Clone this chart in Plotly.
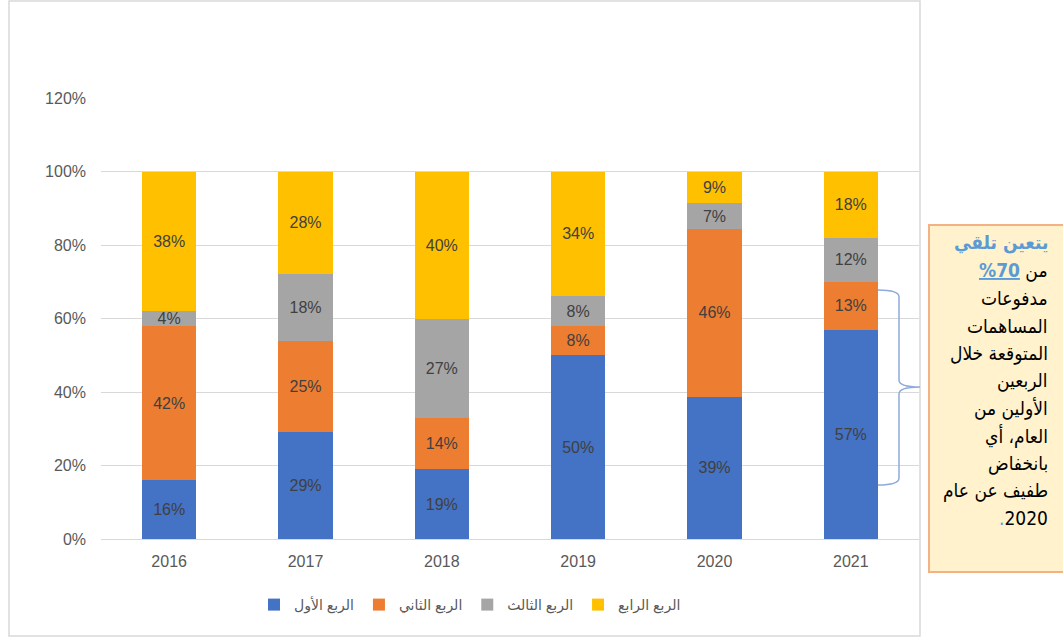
import plotly.graph_objects as go

years = ["2016", "2017", "2018", "2019", "2020", "2021"]
q1 = [0.16, 0.29, 0.19, 0.50, 0.387, 0.57]
q2 = [0.42, 0.25, 0.14, 0.08, 0.456, 0.13]
q3 = [0.04, 0.18, 0.27, 0.08, 0.070, 0.12]
q4 = [0.38, 0.28, 0.40, 0.34, 0.087, 0.18]
series_names = ["الربع الأول", "الربع الثاني", "الربع الثالث", "الربع الرابع"]
series_values = [q1, q2, q3, q4]
colors = ["#4472C4", "#ED7D31", "#A5A5A5", "#FFC000"]

note_lines = [
    "<span style='color:#5B9BD5'><b>يتعين تلقي</b></span>",
    "<span style='color:#5B9BD5'><b><u>%70</u></b></span> من",
    "مدفوعات",
    "المساهمات",
    "المتوقعة خلال",
    "الربعين",
    "الأولين من",
    "العام، أي",
    "بانخفاض",
    "طفيف عن عام",
    "<span style='color:#5B9BD5'>.</span>2020",
]

W, H = 1063, 638
L, R, T, B = 101, 919, 98, 539  # plot area in px


def px_x(p):
    return (p - L) / (R - L)


def px_y(p):
    return (B - p) / (B - T)


fig = go.Figure()
for name, vals, c in zip(series_names, series_values, colors):
    fig.add_trace(go.Bar(
        x=years, y=vals, name=name, marker=dict(color=c, line=dict(width=0)),
        texttemplate="%{y:.0%}", textposition="inside", insidetextanchor="middle",
        textangle=0, constraintext="none",
        textfont=dict(size=16, color="#404040", family="Liberation Sans, DejaVu Sans"),
        hoverinfo="skip",
    ))

shapes = [
    # chart border
    dict(type="rect", xref="paper", yref="paper", x0=px_x(9), x1=px_x(920),
         y0=px_y(636), y1=px_y(1), line=dict(color="#D9D9D9", width=1.5),
         fillcolor="rgba(0,0,0,0)", layer="below"),
    # note box
    dict(type="rect", xref="paper", yref="paper", x0=px_x(929), x1=px_x(1070),
         y0=px_y(572), y1=px_y(225), line=dict(color="#F4B183", width=2),
         fillcolor="#FFF2CC", layer="above"),
]

# brace (pixel geometry converted to paper coords)
xa, xb, xc = px_x(878), px_x(899), px_x(920)
ys = [px_y(v) for v in (290, 297, 380, 387, 394, 478, 485)]
path = (f"M {xa},{ys[0]} Q {xb},{ys[0]} {xb},{ys[1]} L {xb},{ys[2]} "
        f"Q {xb},{ys[3]} {xc},{ys[3]} Q {xb},{ys[3]} {xb},{ys[4]} "
        f"L {xb},{ys[5]} Q {xb},{ys[6]} {xa},{ys[6]}")
shapes.append(dict(type="path", xref="paper", yref="paper", path=path,
                   line=dict(color="#8FAADC", width=1.5)))

annotations = []
for i, line in enumerate(note_lines):
    annotations.append(dict(
        xref="paper", yref="paper", x=px_x(1050), y=px_y(243 + i * 27.5),
        xanchor="right", yanchor="middle", text=line, showarrow=False,
        font=dict(size=19, color="#000000",
                  family="DejaVu Sans Condensed, DejaVu Sans, Liberation Sans"),
        align="right",
    ))

fig.update_layout(
    width=W, height=H,
    margin=dict(l=L, r=W - R, t=T, b=H - B, pad=0),
    paper_bgcolor="white", plot_bgcolor="white",
    barmode="stack", bargap=0.6,
    showlegend=True,
    legend=dict(orientation="h", x=px_x(470), xanchor="center", y=px_y(605),
                yanchor="middle", font=dict(size=14, color="#595959",
                                            family="Liberation Sans, DejaVu Sans"),
                itemwidth=30, traceorder="normal"),
    shapes=shapes, annotations=annotations,
    hovermode=False,
    font=dict(family="Liberation Sans, DejaVu Sans", color="#595959"),
)
fig.update_yaxes(range=[0, 1.2], dtick=0.2, tickformat=".0%", showgrid=True,
                 gridcolor="#D9D9D9", gridwidth=1, zeroline=False, showline=False,
                 ticks="", ticklabelstandoff=14,
                 tickfont=dict(size=16, color="#595959"))
fig.update_xaxes(type="category", showline=True, linecolor="#D9D9D9", linewidth=1,
                 ticks="", showgrid=False, ticklabelstandoff=8,
                 tickfont=dict(size=16, color="#595959"))

fig.write_html("out.html", config={"displayModeBar": False},
               post_script="document.body.style.margin='0';"
                           "document.body.style.overflow='hidden';")
